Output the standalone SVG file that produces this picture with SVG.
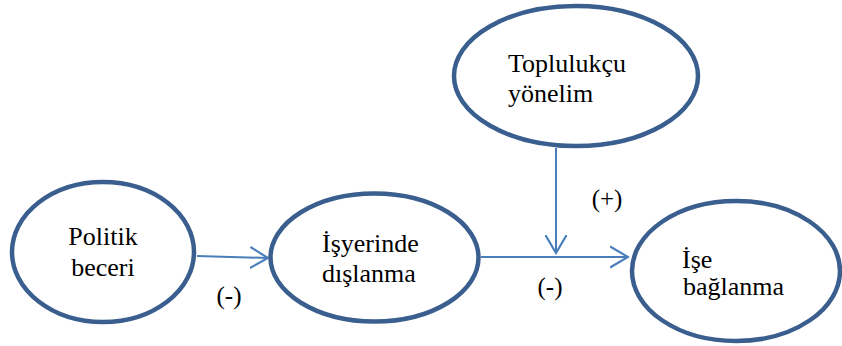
<svg xmlns="http://www.w3.org/2000/svg" width="842" height="346" viewBox="0 0 842 346">
  <defs>
    <marker id="open-arrow" markerUnits="userSpaceOnUse" markerWidth="20" markerHeight="24" refX="17" refY="10" orient="auto" viewBox="0 -1 19 22">
      <path d="M0,0 L17,10 L0,20" fill="none" stroke="#4a7ebb" stroke-width="2"/>
    </marker>
  </defs>

  <!-- connectors and their signs -->
  <g id="connectors">
    <g fill="none" stroke="#4a7ebb" stroke-width="2">
      <path d="M197,256 L268,258" marker-end="url(#open-arrow)"/>
      <path d="M481,257 L628,257" marker-end="url(#open-arrow)"/>
      <path d="M556,148 L556,253" marker-end="url(#open-arrow)"/>
    </g>
    <text x="229" y="304" font-family="Liberation Serif" font-size="25" text-anchor="middle">(-)</text>
    <text x="550" y="295" font-family="Liberation Serif" font-size="25" text-anchor="middle">(-)</text>
    <text x="607" y="207" font-family="Liberation Serif" font-size="25" text-anchor="middle">(+)</text>
  </g>

  <!-- nodes: white ellipses with a dark blue outline -->
  <g id="politik-beceri">
    <ellipse cx="103" cy="252" rx="91" ry="70" fill="#ffffff" stroke="#3a5f8f" stroke-width="4.5"/>
    <text x="103" y="245" font-family="Liberation Serif" font-size="26" text-anchor="middle">Politik</text>
    <text x="103" y="276" font-family="Liberation Serif" font-size="26" text-anchor="middle">beceri</text>
  </g>

  <g id="isyerinde-dislanma">
    <ellipse cx="374.5" cy="257.5" rx="104" ry="64" fill="#ffffff" stroke="#3a5f8f" stroke-width="4.5"/>
    <text x="322" y="252" font-family="Liberation Serif" font-size="26">İşyerinde</text>
    <text x="322" y="282" font-family="Liberation Serif" font-size="26">dışlanma</text>
  </g>

  <g id="toplulukcu-yonelim">
    <ellipse cx="576" cy="76" rx="122" ry="70" fill="#ffffff" stroke="#3a5f8f" stroke-width="4.5"/>
    <text x="508" y="72" font-family="Liberation Serif" font-size="26">Toplulukçu</text>
    <text x="508" y="102" font-family="Liberation Serif" font-size="26">yönelim</text>
  </g>

  <g id="ise-baglanma">
    <ellipse cx="736" cy="271" rx="104" ry="70" fill="#ffffff" stroke="#3a5f8f" stroke-width="4.5"/>
    <text x="682" y="268" font-family="Liberation Serif" font-size="26">İşe</text>
    <text x="683" y="295" font-family="Liberation Serif" font-size="26">bağlanma</text>
  </g>
</svg>
